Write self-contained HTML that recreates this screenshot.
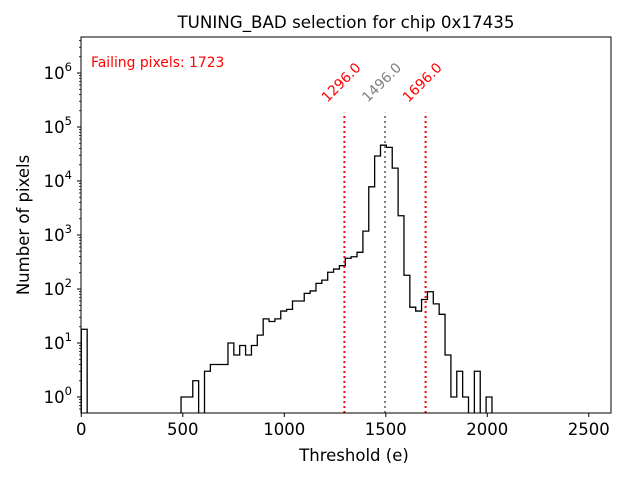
<!DOCTYPE html>
<html><head><meta charset="utf-8"><style>
body{margin:0;background:#fff;}
svg text{font-family:"DejaVu Sans","Liberation Sans",sans-serif;}
</style></head><body>
<svg id="chart" width="640" height="480" viewBox="0 0 640 480">
<defs><clipPath id="pc"><rect x="81" y="37" width="530" height="376"/></clipPath></defs>
<rect x="0" y="0" width="640" height="480" fill="#fff"/>
<text x="346" y="28" font-size="16.7" text-anchor="middle">TUNING_BAD selection for chip 0x17435</text>
<text x="354" y="461" font-size="16.5" text-anchor="middle">Threshold (e)</text>
<text x="0" y="0" font-size="16.5" text-anchor="middle" transform="translate(29,225) rotate(-90)">Number of pixels</text>
<text x="91" y="67" font-size="13.9" fill="#ff0000">Failing pixels: 1723</text>
<g id="marks" clip-path="url(#pc)"></g>
<g id="axes"></g>
<rect x="81" y="37" width="530" height="376" fill="none" stroke="#000" stroke-width="1"/>
</svg>
<script>
const binWidth = 28.9;
const counts = [18,0,0,0,0,0,0,0,0,0,0,0,0,0,0,0,0,1,1,2,0,3,4,4,4,10,6,9,6,9,14,28,25,28,39,42,60,60,83,92,127,146,204,234,270,371,396,478,1180,7800,29000,46000,42000,17300,2270,180,46,39,64,89,53,34,6,1,3,1,0,3,0,1];
const thresholds = [1296, 1496, 1696];
const thresholdLabels = ["1296.0","1496.0","1696.0"];
const thresholdColors = ["#ff0000","#808080","#ff0000"];
const xTicks = [0,500,1000,1500,2000,2500];
const yDecades = [0,1,2,3,4,5,6];

const NS="http://www.w3.org/2000/svg";
const X0=81.3, XS=0.203, Y0=397, YS=54, BOTTOM=413, LEFT=81;
function xs(v){return X0+v*XS;}
function ys(v){return Y0-Math.log10(v)*YS;}
function mk(tag,attrs,parent){const e=document.createElementNS(NS,tag);for(const k in attrs)e.setAttribute(k,attrs[k]);parent.appendChild(e);return e;}
const marks=document.getElementById('marks'), axes=document.getElementById('axes');

let d="M"+xs(0)+","+(BOTTOM+5);
counts.forEach((c,i)=>{
  const y=c>0?ys(c):BOTTOM+5;
  d+=" L"+xs(i*binWidth)+","+y+" L"+xs((i+1)*binWidth)+","+y;
});
d+=" L"+xs(counts.length*binWidth)+","+(BOTTOM+5);
const hist=mk('path',{d:d,fill:"none",stroke:"#000","stroke-width":1.3},marks);



const peak=Math.max(...counts);
const lineTop=ys(peak*4);
thresholds.forEach((t,i)=>{
  const x=xs(t);
  const ln=mk('line',{x1:x,x2:x,y1:BOTTOM,y2:lineTop,stroke:thresholdColors[i],"stroke-width":2,"stroke-dasharray":"2,3"},marks);
  
  
  const tx=mk('text',{x:0,y:0,"font-size":13.9,fill:thresholdColors[i],"text-anchor":"middle",transform:"translate("+(x)+","+(lineTop-27)+") rotate(-45)"},document.getElementById('chart'));
  tx.textContent=thresholdLabels[i];
  
  
});

xTicks.forEach(v=>{
  const x=xs(v);
  mk('line',{x1:x,x2:x,y1:BOTTOM,y2:BOTTOM+4,stroke:"#000","stroke-width":1},axes);
  const t=mk('text',{x:x,y:BOTTOM+22,"font-size":16.5,"text-anchor":"middle"},axes);
  t.textContent=v;
  
  
});
yDecades.forEach(p=>{
  const y=Y0-p*YS;
  mk('line',{x1:LEFT,x2:LEFT-4,y1:y,y2:y,stroke:"#000","stroke-width":1},axes);
  const t=mk('text',{x:LEFT-9,y:y+6,"font-size":16.5,"text-anchor":"end"},axes);
  t.innerHTML='10<tspan dy="-8" font-size="11.5">'+p+'</tspan>';
  
  
});
for(let p=-1;p<=6;p++){for(let m=2;m<=9;m++){
  const y=Y0-(p+Math.log10(m))*YS;
  if(y<37||y>413)continue;
  mk('line',{x1:LEFT,x2:LEFT-2,y1:y,y2:y,stroke:"#000","stroke-width":0.8},axes);
}}
</script>
</body></html>
